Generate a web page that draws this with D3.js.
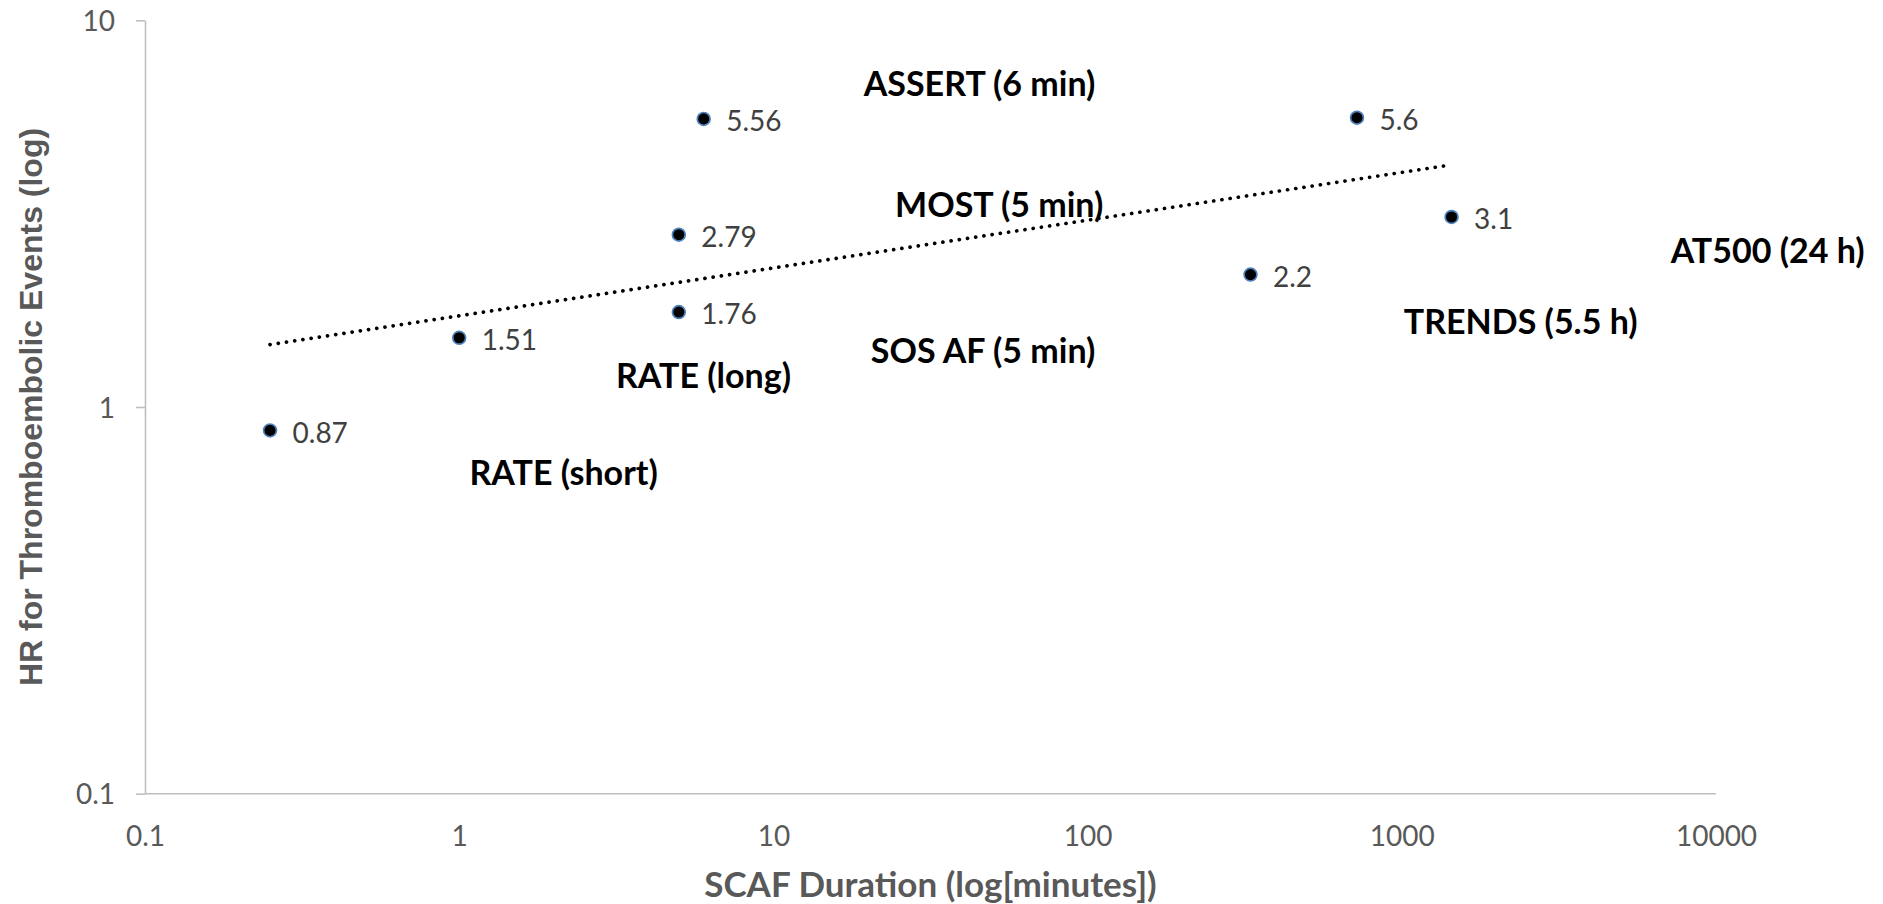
<!DOCTYPE html>
<html>
<head>
<meta charset="utf-8">
<script src="https://cdn.jsdelivr.net/npm/d3@7"></script>
<style>
  html, body { margin: 0; padding: 0; background: #ffffff; }
  svg { display: block; }
</style>
</head>
<body>
<svg id="chart" width="1883" height="904"></svg>
<script>
// SCAF duration (minutes) and hazard ratio for thromboembolic events, per study
const durations    = [0.25, 1, 5, 5, 6, 330, 720, 1440];
const hazardRatios = [0.87, 1.51, 1.76, 2.79, 5.56, 2.2, 5.6, 3.1];
const valueLabels  = ["0.87", "1.51", "1.76", "2.79", "5.56", "2.2", "5.6", "3.1"];

// Study names written over the plot
const studyNames = ["ASSERT (6 min)", "MOST (5 min)", "SOS AF (5 min)", "RATE (long)",
                    "RATE (short)", "TRENDS (5.5 h)", "AT500 (24 h)"];

// Axis ticks
const xTicks = [0.1, 1, 10, 100, 1000, 10000];
const yTicks = [0.1, 1, 10];
const xTickLabels = ["0.1", "1", "10", "100", "1000", "10000"];
const yTickLabels = ["0.1", "1", "10"];

const xTitle = "SCAF Duration (log[minutes])";
const yTitle = "HR for Thromboembolic Events (log)";

// Layout
const plot = { left: 145, right: 1716, top: 20.3, bottom: 793.7 };
// Anchor points of the study names, in axis units (centre, baseline)
const notePos = [[45.3, 6.37], [52.3, 3.10], [46.5, 1.30], [5.99, 1.118],
                 [2.15, 0.630], [2390, 1.543], [14600, 2.357]];

const svg = d3.select("#chart");

const x = d3.scaleLog().domain([0.1, 10000]).range([plot.left, plot.right]);
const y = d3.scaleLog().domain([0.1, 10]).range([plot.bottom, plot.top]);

const axisColor = "#bfbfbf";
const tickTextColor = "#595959";

// X axis
const xAxis = svg.append("g")
  .attr("transform", `translate(0,${plot.bottom})`)
  .call(d3.axisBottom(x).tickValues(xTicks)
    .tickFormat((d, i) => xTickLabels[i]).tickSize(0).tickPadding(0));
xAxis.select(".domain").attr("stroke", axisColor).attr("stroke-width", 1.6)
  .attr("d", `M${plot.left},0H${plot.right}`);
xAxis.selectAll("text")
  .attr("y", 52)
  .attr("dy", null)
  .attr("fill", tickTextColor)
  .style("font-family", "Lato, 'Open Sans', sans-serif")
  .style("font-size", "28px");

// Y axis
const yAxis = svg.append("g")
  .attr("transform", `translate(${plot.left},0)`)
  .call(d3.axisLeft(y).tickValues(yTicks)
    .tickFormat((d, i) => yTickLabels[i]).tickSize(9).tickSizeOuter(0).tickPadding(21));
yAxis.select(".domain").attr("stroke", axisColor).attr("stroke-width", 1.6);
yAxis.selectAll(".tick line").attr("stroke", axisColor).attr("stroke-width", 1.6);
yAxis.selectAll("text")
  .attr("fill", tickTextColor)
  .attr("dy", "0.36em")
  .style("font-family", "Lato, 'Open Sans', sans-serif")
  .style("font-size", "28px");

// Power trendline: least squares fit in log-log space over the data range
const lx = durations.map(Math.log10);
const ly = hazardRatios.map(Math.log10);
const mx = d3.mean(lx), my = d3.mean(ly);
const slope = d3.sum(lx, (v, i) => (v - mx) * (ly[i] - my)) / d3.sum(lx, v => (v - mx) * (v - mx));
const intercept = my - slope * mx;
const fitY = v => Math.pow(10, intercept + slope * Math.log10(v));
const xMin = d3.min(durations), xMax = d3.max(durations);
const trend = d3.range(0, 41).map(k => {
  const v = Math.pow(10, Math.log10(xMin) + (Math.log10(xMax) - Math.log10(xMin)) * k / 40);
  return [v, fitY(v)];
});
svg.append("path")
  .datum(trend)
  .attr("fill", "none")
  .attr("stroke", "#000000")
  .attr("stroke-width", 3.7)
  .attr("stroke-linecap", "round")
  .attr("stroke-dasharray", "0.1 8.2")
  .attr("d", d3.line().x(d => x(d[0])).y(d => y(d[1])));

// Points
const pts = durations.map((d, i) => ({ d, hr: hazardRatios[i], label: valueLabels[i] }));
svg.append("g").selectAll("circle")
  .data(pts).join("circle")
  .attr("cx", p => x(p.d))
  .attr("cy", p => y(p.hr))
  .attr("r", 6.4)
  .attr("fill", "#000000")
  .attr("stroke", "#4f81bd")
  .attr("stroke-width", 1.7);

// Value labels to the right of each point
svg.append("g").selectAll("text")
  .data(pts).join("text")
  .attr("x", p => x(p.d) + 22.5)
  .attr("y", p => y(p.hr) + 1.2)
  .attr("dominant-baseline", "central")
  .attr("fill", "#404040")
  .style("font-family", "Lato, 'Open Sans', sans-serif")
  .style("font-size", "28px")
  .text(p => p.label);

// Study names
svg.append("g").selectAll("text")
  .data(studyNames).join("text")
  .attr("x", (s, i) => x(notePos[i][0]))
  .attr("y", (s, i) => y(notePos[i][1]))
  .attr("text-anchor", "middle")
  .attr("fill", "#000000")
  .style("font-family", "Lato, 'Open Sans', sans-serif")
  .style("font-weight", "bold")
  .style("font-size", "34px")
  .text(s => s);

// Axis titles
svg.append("text")
  .attr("x", (plot.left + plot.right) / 2)
  .attr("y", 897)
  .attr("text-anchor", "middle")
  .attr("fill", tickTextColor)
  .style("font-family", "Lato, 'Open Sans', sans-serif")
  .style("font-weight", "bold")
  .style("font-size", "35px")
  .text(xTitle);

svg.append("text")
  .attr("transform", `translate(41.5,${(plot.top + plot.bottom) / 2}) rotate(-90)`)
  .attr("text-anchor", "middle")
  .attr("fill", tickTextColor)
  .style("font-family", "'Liberation Sans', Arial, sans-serif")
  .style("font-weight", "bold")
  .style("font-size", "32px")
  .text(yTitle);
</script>
</body>
</html>
